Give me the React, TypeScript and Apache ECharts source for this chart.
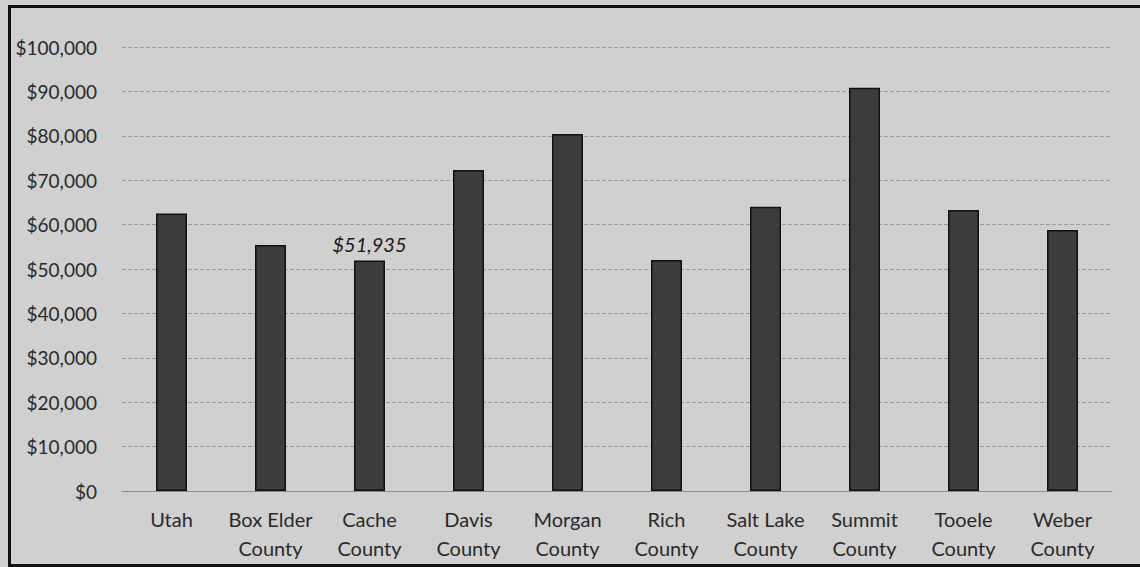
import React, { useEffect, useRef } from "react";
import * as echarts from "echarts";

const categories = [
  "Utah",
  "Box Elder\nCounty",
  "Cache\nCounty",
  "Davis\nCounty",
  "Morgan\nCounty",
  "Rich\nCounty",
  "Salt Lake\nCounty",
  "Summit\nCounty",
  "Tooele\nCounty",
  "Weber\nCounty",
];
const incomes = [62500, 55400, 51935, 72300, 80400, 52000, 64000, 90800, 63300, 58800];
const labeledIndex = 2;
const yMin = 0;
const yMax = 100000;
const yInterval = 10000;

const fmt = (v: number) => "$" + v.toLocaleString("en-US");

export default function App() {
  const ref = useRef<HTMLDivElement>(null);
  useEffect(() => {
    if (!ref.current) return;
    const chart = echarts.init(ref.current, undefined, { renderer: "svg" });
    chart.setOption({
      animation: false,
      backgroundColor: "transparent",
      grid: { left: 122, right: 28, top: 47, bottom: 76, containLabel: false },
      xAxis: {
        type: "category",
        data: categories,
        axisLine: { show: true, lineStyle: { color: "#8a8a8a", width: 1 } },
        axisTick: { show: false },
        axisLabel: {
          interval: 0,
          margin: 13,
          fontFamily: "Lato",
          fontSize: 20,
          lineHeight: 29,
          color: "#2a2a2a",
        },
      },
      yAxis: {
        type: "value",
        min: yMin,
        max: yMax,
        interval: yInterval,
        axisLine: { show: false },
        axisTick: { show: false },
        splitLine: { show: true, lineStyle: { color: "#9a9a9a", type: "dashed", width: 1 } },
        axisLabel: {
          margin: 25,
          fontFamily: "Lato",
          fontSize: 19,
          color: "#2a2a2a",
          formatter: (v: number) => fmt(v),
        },
      },
      series: [
        {
          type: "bar",
          barWidth: 31,
          data: incomes.map((v, i) =>
            i === labeledIndex
              ? {
                  value: v,
                  label: {
                    show: true,
                    position: "top",
                    distance: 6,
                    fontFamily: "Lato",
                    fontStyle: "italic",
                    fontSize: 20,
                    color: "#1a1a1a",
                    formatter: (p: any) => fmt(p.value),
                  },
                }
              : v
          ),
          itemStyle: { color: "#3c3c3c", borderColor: "#111", borderWidth: 1.5 },
        },
      ],
    });
    return () => chart.dispose();
  }, []);
  return (
    <div
      style={{
        position: "fixed",
        left: 0,
        top: 0,
        width: 1140,
        height: 567,
        background: "#d0d0d0",
      }}
    >
      <div
        style={{
          position: "absolute",
          left: 8,
          top: 5,
          width: 1140 - 8,
          height: 567 - 5,
          borderTop: "3px solid #111",
          borderLeft: "3px solid #111",
          borderBottom: "3px solid #111",
          boxSizing: "border-box",
        }}
      />
      <div ref={ref} style={{ position: "absolute", left: 0, top: 0, width: 1140, height: 567 }} />
    </div>
  );
}
